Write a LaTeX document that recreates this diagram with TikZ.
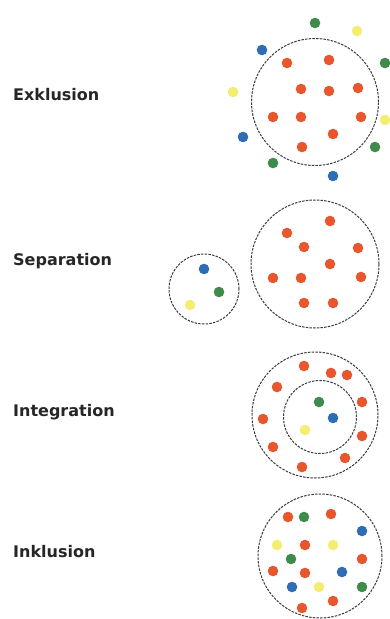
\documentclass[tikz,border=0pt]{standalone}
\usepackage{fontspec}
\setmainfont{DejaVu Sans}
\definecolor{dorange}{HTML}{E8562E}
\definecolor{dgreen}{HTML}{3F8B4B}
\definecolor{dblue}{HTML}{2E6DB4}
\definecolor{dyellow}{HTML}{F3EE70}
\definecolor{ring}{HTML}{3A3A3A}
\tikzset{
  lbl/.style={anchor=west, font=\fontsize{16}{16}\selectfont\bfseries, inner sep=0pt, text=black!85},
  ringc/.style={draw=ring, line width=1pt, dash pattern=on 2.5pt off 1.2pt, circle, inner sep=0pt, fill=none},
}
\newcommand{\dotset}[2]{\foreach \p in {#2} {\fill[#1] \p circle[radius=5.3pt];}}
\begin{document}
\begin{tikzpicture}[x=1pt,y=-1pt]
\useasboundingbox (0,0) rectangle (390,619);
% labels
\node[lbl] (lex) at (13,94.5) {Exklusion};
\node[lbl] (lsep) at (13,261) {Separation};
\node[lbl] (lint) at (13,412) {Integration};
\node[lbl] (linc) at (13,552) {Inklusion};
% Exklusion
\node[ringc, minimum size=127pt] (cex) at (315,102) {};
\dotset{dorange}{(287,63),(329,60),(301,89),(329,91),(358,88),(273,117),(301,117),(361,117),(333,134),(302,147)}
\dotset{dgreen}{(315,23),(385,63),(375,147),(273,163)}
\dotset{dblue}{(262,50),(243,137),(333,176)}
\dotset{dyellow}{(357,31),(233,92),(385,120)}
% Separation
\node[ringc, minimum size=70pt] (csmall) at (204,289) {};
\node[ringc, minimum size=128pt] (cbig) at (315,264) {};
\dotset{dblue}{(204,269)}
\dotset{dgreen}{(219,292)}
\dotset{dyellow}{(190,305)}
\dotset{dorange}{(330,221),(287,233),(304,247),(358,248),(330,264),(273,278),(301,278),(361,277),(304,303),(333,303)}
% Integration
\node[ringc, minimum size=126pt] (couter) at (315,415) {};
\node[ringc, minimum size=73pt] (cinner) at (320,417) {};
\dotset{dorange}{(304,366),(331,373),(347,375),(277,387),(362,402),(263,419),(362,436),(273,447),(345,458),(302,467)}
\dotset{dgreen}{(319,402)}
\dotset{dblue}{(333,418)}
\dotset{dyellow}{(305,430)}
% Inklusion
\node[ringc, minimum size=124pt] (cinc) at (320,556) {};
\dotset{dorange}{(288,517),(331,514),(305,545),(362,559),(273,571),(305,573),(333,601),(302,608)}
\dotset{dgreen}{(304,517),(291,559),(362,587)}
\dotset{dblue}{(362,531),(342,572),(292,587)}
\dotset{dyellow}{(277,545),(333,545),(319,587)}
\end{tikzpicture}
\end{document}
